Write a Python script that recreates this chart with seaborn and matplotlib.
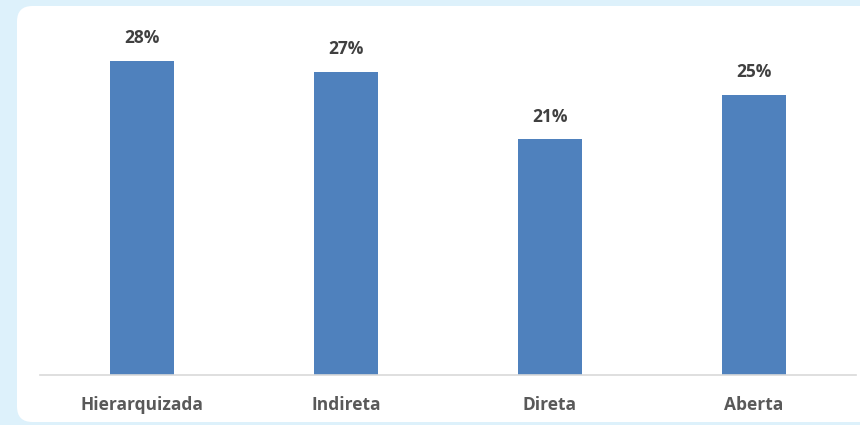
import matplotlib
matplotlib.use("Agg")
import matplotlib.pyplot as plt
from matplotlib.patches import FancyBboxPatch
import seaborn as sns
import pandas as pd

categories = ["Hierarquizada", "Indireta", "Direta", "Aberta"]
values = [28, 27, 21, 25]
value_labels = ["28%", "27%", "21%", "25%"]

sns.set_theme(style="white")
plt.rcParams["font.family"] = ["Open Sans", "DejaVu Sans"]

W, H = 860, 425
fig = plt.figure(figsize=(W / 100, H / 100), dpi=100)
fig.patch.set_facecolor("#ddf1fb")

# white rounded card behind the chart
card = FancyBboxPatch((17 / W, 3 / H), (W + 20 - 17) / W, (419 - 3) / H,
                      boxstyle="round,pad=0,rounding_size=0.018",
                      transform=fig.transFigure, facecolor="white",
                      edgecolor="none", zorder=-5, mutation_aspect=W / H)
fig.patches.append(card)

ax = fig.add_axes([40 / W, (H - 375) / H, (856 - 40) / W, (375 - 6) / H])
ax.set_zorder(2)
ax.set_facecolor("none")
ax.patch.set_alpha(0)

df = pd.DataFrame({"cat": categories, "val": values})
sns.barplot(data=df, x="cat", y="val", color="#4f81bd", saturation=1,
            width=0.31, linewidth=0, ax=ax)

ax.set_ylim(0, 32.9)
ax.set_xlim(-0.5, len(categories) - 0.5)
for i, (v, lab) in enumerate(zip(values, value_labels)):
    ax.annotate(lab, (i, v), xytext=(0, 10), textcoords="offset points",
                ha="center", va="bottom", fontsize=12.5, fontweight="bold",
                color="#404040")

for s in ["top", "right", "left"]:
    ax.spines[s].set_visible(False)
ax.spines["bottom"].set_color("#d9d9d9")
ax.spines["bottom"].set_linewidth(1.2)
ax.set_yticks([])
ax.set_xlabel("")
ax.set_ylabel("")
ax.tick_params(axis="x", length=0, pad=15, labelsize=12.5, colors="#595959")
for t in ax.get_xticklabels():
    t.set_fontweight("bold")

fig.savefig("out.png", dpi=100, facecolor=fig.get_facecolor())
